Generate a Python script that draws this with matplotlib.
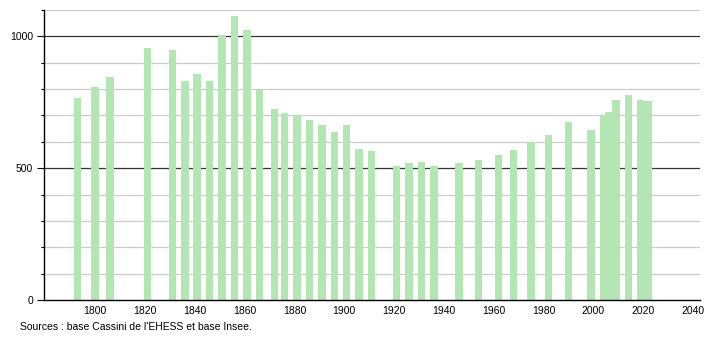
import matplotlib
matplotlib.use("Agg")
import matplotlib.pyplot as plt
from matplotlib.ticker import MultipleLocator, FixedLocator

plt.rcParams['font.family'] = ['Liberation Sans', 'DejaVu Sans']

years = [1793, 1800, 1806, 1821, 1831, 1836, 1841, 1846, 1851, 1856, 1861, 1866,
         1872, 1876, 1881, 1886, 1891, 1896, 1901, 1906, 1911, 1921, 1926, 1931,
         1936, 1946, 1954, 1962, 1968, 1975, 1982, 1990, 1999, 2004, 2006, 2009,
         2014, 2019, 2022]
population = [767, 809, 844, 954, 947, 829, 859, 829, 1005, 1076, 1023, 797,
              726, 711, 702, 681, 665, 637, 665, 574, 567, 509, 520, 525,
              509, 518, 532, 551, 570, 600, 626, 677, 646, 701, 715, 757,
              779, 760, 753]
x_ticks = [1800, 1820, 1840, 1860, 1880, 1900, 1920, 1940, 1960, 1980, 2000, 2020, 2040]
y_major = [0, 500, 1000]
source_text = "Sources : base Cassini de l'EHESS et base Insee."

fig = plt.figure(figsize=(7.1, 3.4), dpi=100)
ax = fig.add_axes([44/710, 40/340, 656/710, 290/340])

ax.set_xlim(1779.5, 2042.8)
ax.set_ylim(0, 1100)

# gridlines
for v in range(100, 1101, 100):
    if v % 500 == 0:
        ax.axhline(v, color='#333333', lw=0.9, zorder=1)
    else:
        ax.axhline(v, color='#cccccc', lw=0.9, zorder=1)

ax.bar(years, population, width=3.0, color='#b3e6b3', zorder=2, linewidth=0)

for s in ['top', 'right']:
    ax.spines[s].set_visible(False)
ax.spines['left'].set_linewidth(1.0)
ax.spines['bottom'].set_linewidth(1.0)

ax.yaxis.set_major_locator(FixedLocator(y_major))
ax.yaxis.set_minor_locator(MultipleLocator(100))
ax.tick_params(axis='y', which='major', length=5, width=0.8, labelsize=7.5, pad=3, colors='black')
ax.tick_params(axis='y', which='minor', length=2.5, width=0.8)

ax.set_xticks(x_ticks)
ax.tick_params(axis='x', which='major', length=0, labelsize=7.5, pad=4)

fig.text(20/710, 1 - 327/340, source_text, fontsize=7.5, va='center', ha='left')

fig.savefig('out.png', dpi=100)
